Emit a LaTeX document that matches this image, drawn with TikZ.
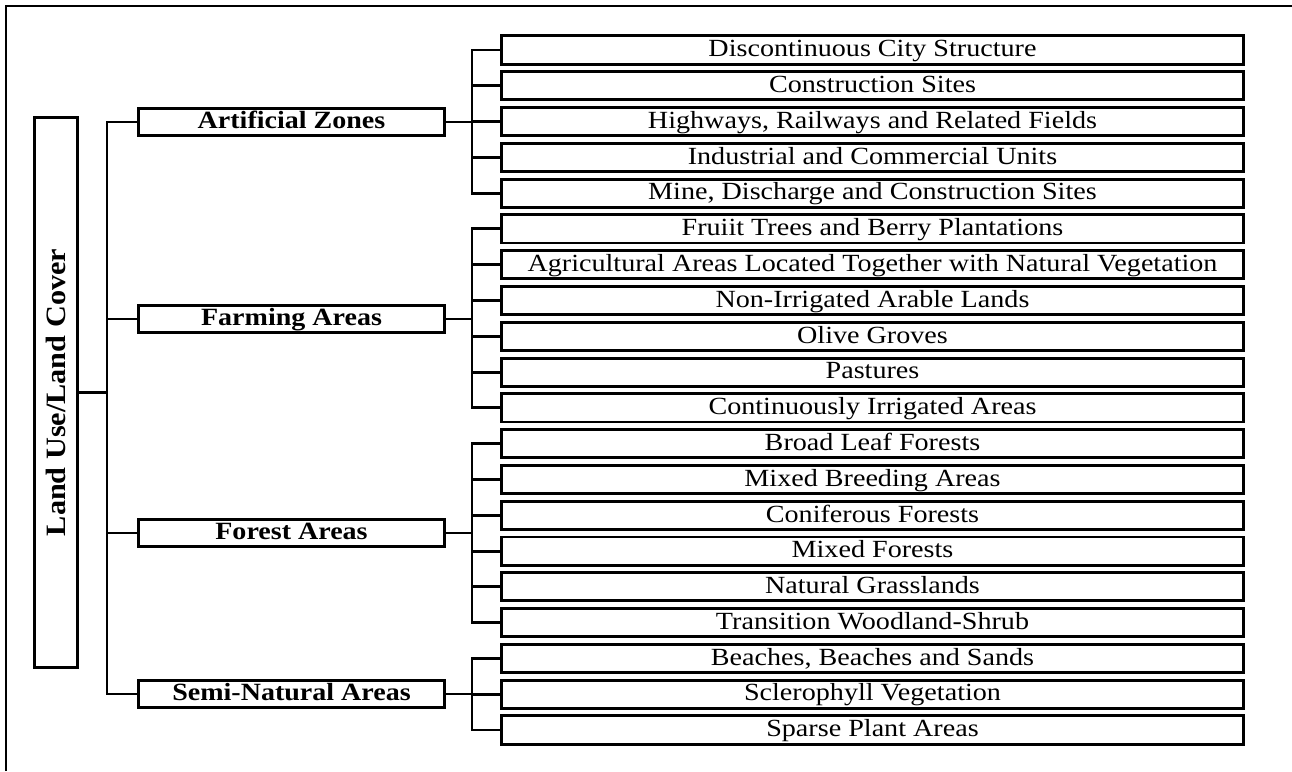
\documentclass[tikz,border=0pt]{standalone}
\usepackage{fontspec}
\setmainfont{Liberation Serif}
\newfontfamily\leaffont[FakeStretch=1.14]{Liberation Serif}
\newfontfamily\groupfont[FakeStretch=1.13]{Liberation Serif}
\newfontfamily\rootfont[FakeStretch=1.08]{Liberation Serif}
\tikzset{
  leafbox/.style={draw, line width=2.2pt, minimum width=556.5pt, inner sep=0pt,
    text height=15.6pt, text depth=5.5pt, font=\leaffont\fontsize{18.5}{22}\selectfont},
  groupbox/.style={draw, line width=2.2pt, minimum width=229.5pt, inner sep=0pt,
    text height=15.4pt, text depth=5.5pt, font=\groupfont\fontsize{18.6}{22}\selectfont\bfseries},
  rootbox/.style={draw, line width=2.2pt, minimum width=412.5pt, minimum height=32.25pt, inner sep=0pt,
    rotate=90, font=\rootfont\fontsize{21}{24}\selectfont\bfseries},
  link/.style={line width=2.2pt}
}
\begin{document}
\begin{tikzpicture}[x=0.75pt,y=-0.75pt]
\useasboundingbox (0,0) rectangle (1292,771);
% frame
\draw[line width=0.8pt] (6,771) -- (6,6) -- (1292,6);

% root and groups
\node[rootbox] (root) at (56,392.5) {Land Use/Land Cover};
\node[groupbox] (art) at (291.5,122) {Artificial Zones};
\node[groupbox] (farm) at (291.5,319) {Farming Areas};
\node[groupbox] (forest) at (291.5,533) {Forest Areas};
\node[groupbox] (semi) at (291.5,694) {Semi-Natural Areas};

% leaves
\foreach \t [count=\i] in {Discontinuous City Structure, Construction Sites,
  {Highways, Railways and Related Fields}, Industrial and Commercial Units,
  {Mine, Discharge and Construction Sites}, Fruiit Trees and Berry Plantations,
  Agricultural Areas Located Together with Natural Vegetation,
  Non-Irrigated Arable Lands, Olive Groves, Pastures,
  Continuously Irrigated Areas, Broad Leaf Forests, Mixed Breeding Areas,
  Coniferous Forests, Mixed Forests, Natural Grasslands,
  Transition Woodland-Shrub, {Beaches, Beaches and Sands},
  Sclerophyll Vegetation, Sparse Plant Areas}
  \node[leafbox] (c\i) at (872.5,{50+(\i-1)*35.79}) {\t};

% spine of the root
\coordinate (spine) at (107,0);
\draw[link] (art.west) -- (art.west -| spine) -- (semi.west -| spine) -- (semi.west);
\draw[link] (farm.west) -- (farm.west -| spine);
\draw[link] (forest.west) -- (forest.west -| spine);
\draw[link] (root.south) -- (root.south -| spine);

% forks to the leaves
\coordinate (fork) at (472,0);
\foreach \g/\a/\b in {art/1/5, farm/6/11, forest/12/17, semi/18/20} {
  \draw[link] (\g.east) -- (\g.east -| fork);
  \draw[link] (c\a.west) -- (c\a.west -| fork) -- (c\b.west -| fork) -- (c\b.west);
  \foreach \i in {\a,...,\b}
    \draw[link] (c\i.west) -- (c\i.west -| fork);
}
\end{tikzpicture}
\end{document}
